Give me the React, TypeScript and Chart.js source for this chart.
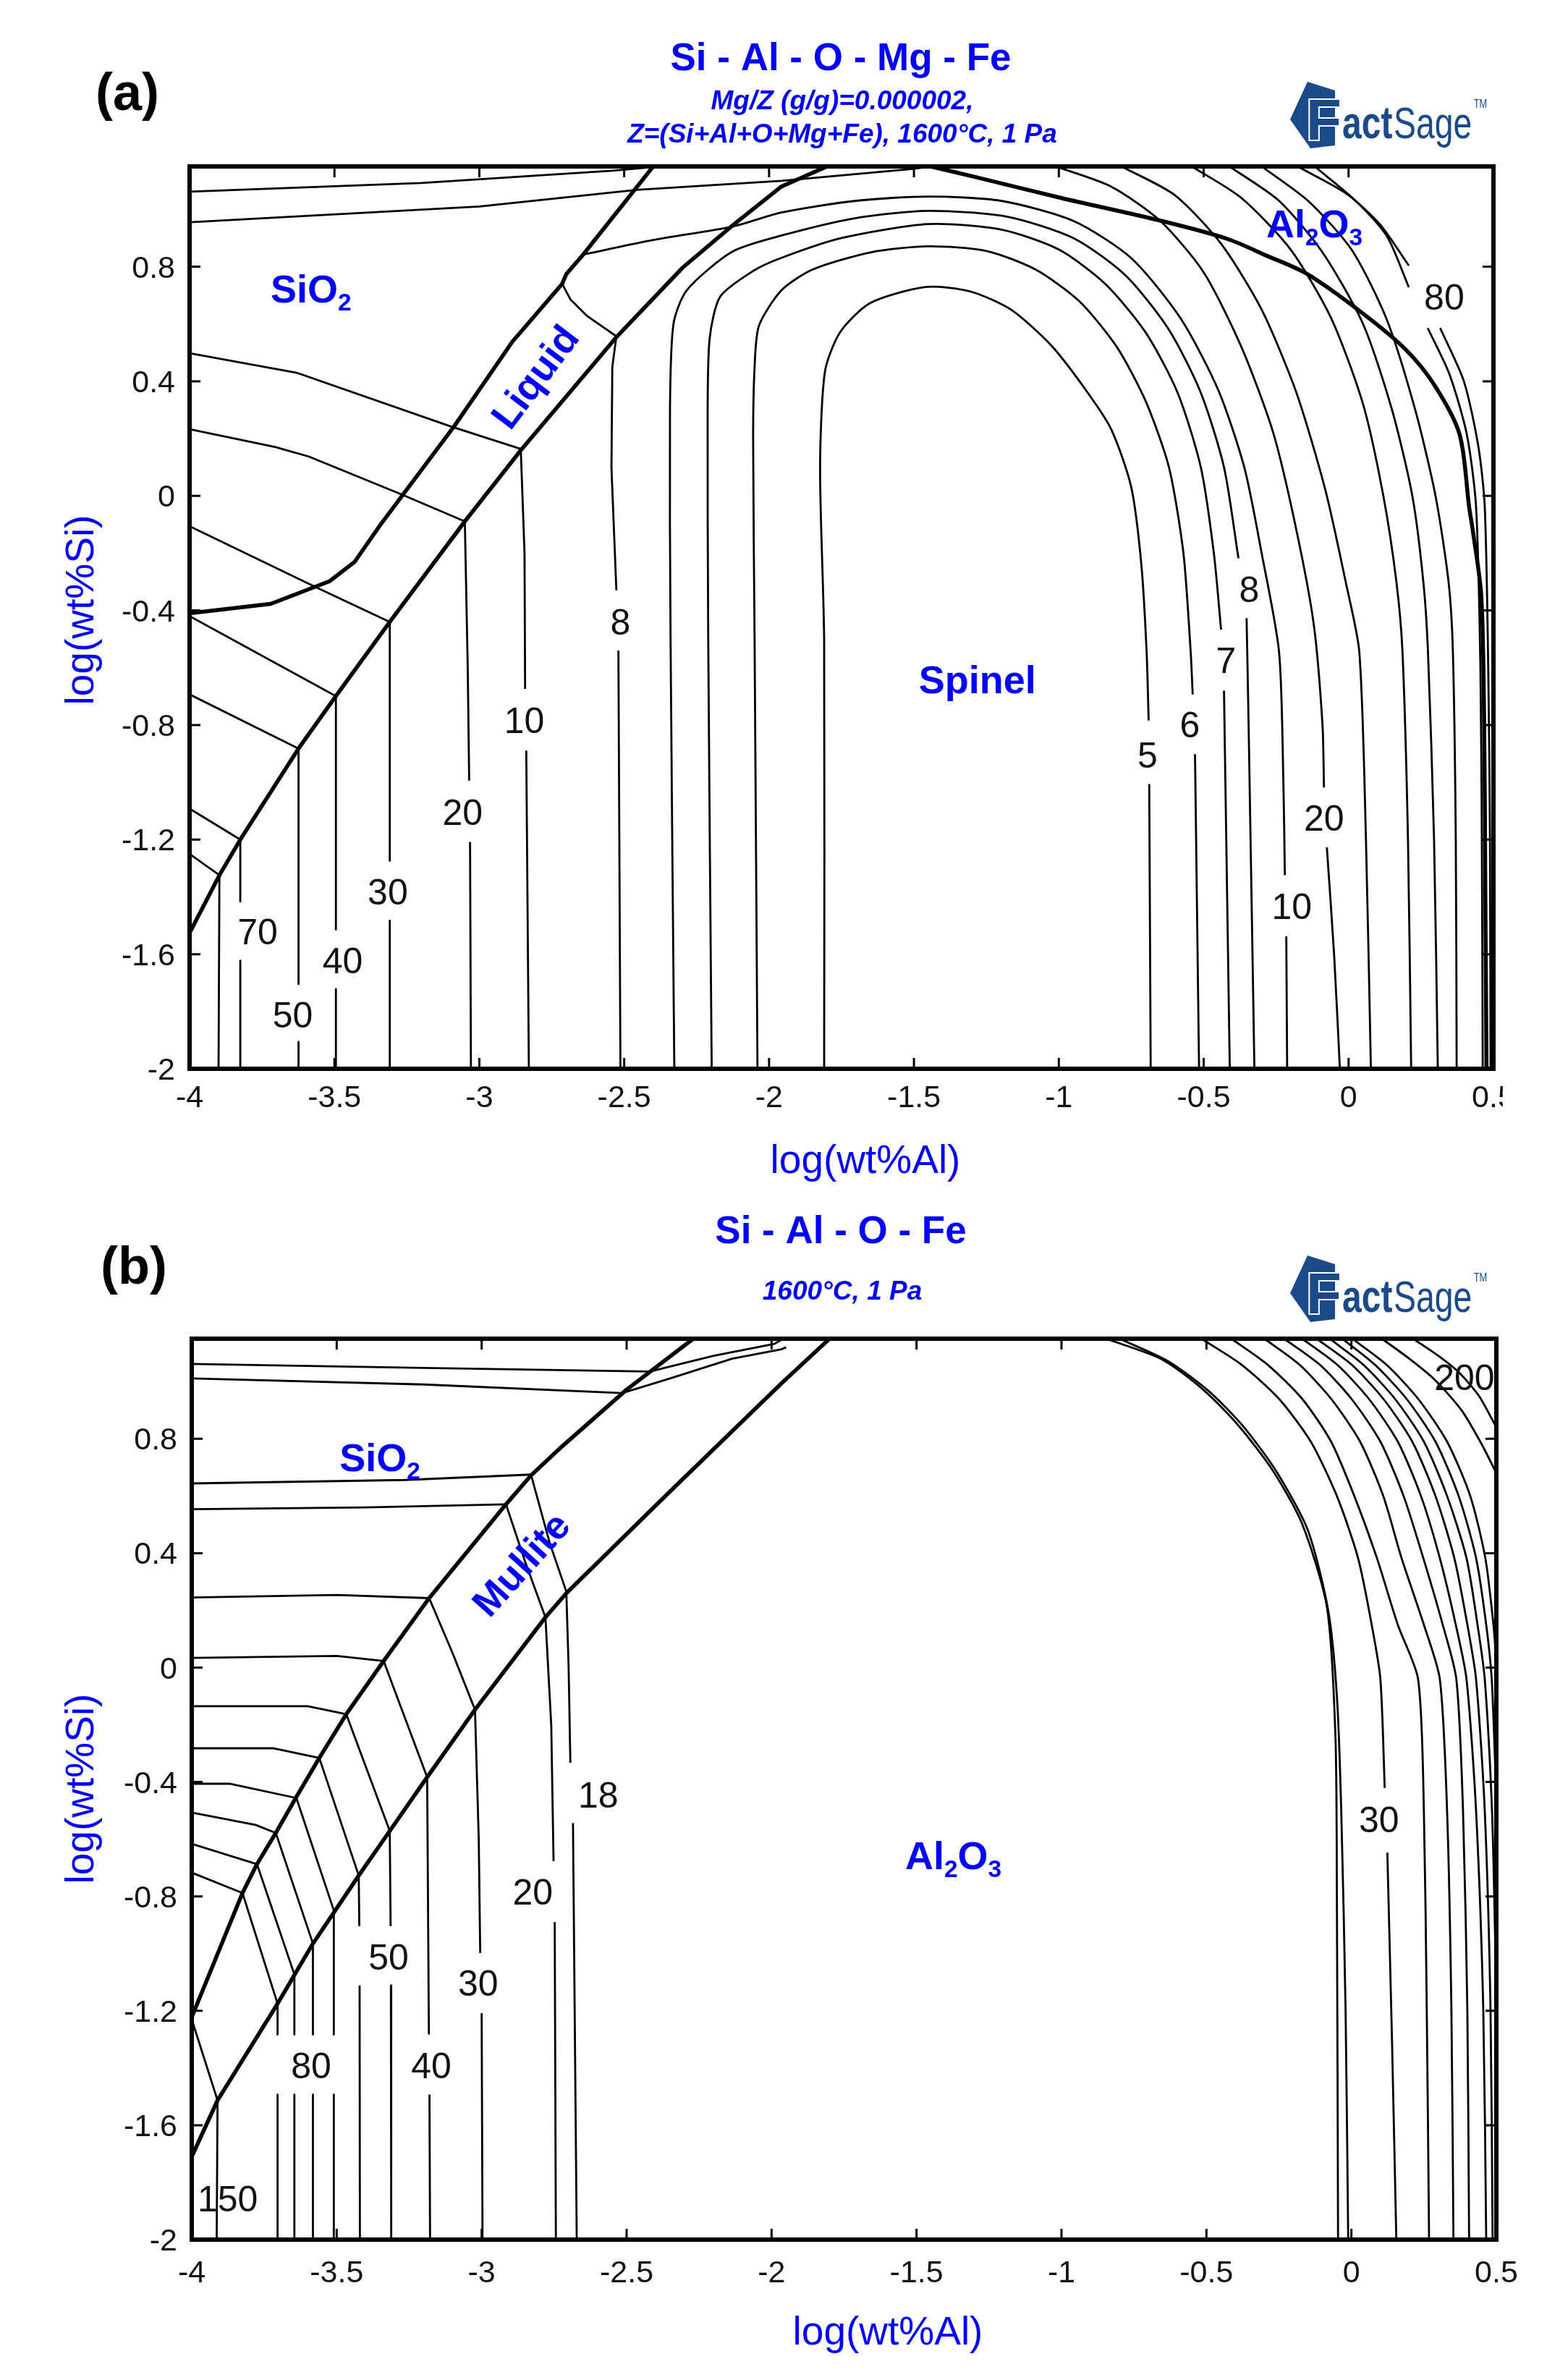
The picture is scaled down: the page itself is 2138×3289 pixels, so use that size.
import React, { useEffect, useRef } from 'react';
import { Chart, registerables } from 'chart.js';

Chart.register(...registerables);

type Pt = [number, number] | null;
type Lbl = { t: string; x: number; y: number };
type Phase = { parts: [string, boolean][]; x: number; y: number; rot: number };

const PAGE_W = 2138;
const PAGE_H = 3289;
const SPLIT = 1660;
const FONT = '"Liberation Sans", Arial, Helvetica, sans-serif';
const BLUE = '#0000ff';

// ---------- axes ----------
const X_MIN = -4, X_MAX = 0.5, Y_MIN = -2, Y_MAX = 1.15;
const xTickValues = [-4, -3.5, -3, -2.5, -2, -1.5, -1, -0.5, 0, 0.5];
const xTickLabels = ['-4', '-3.5', '-3', '-2.5', '-2', '-1.5', '-1', '-0.5', '0', '0.5'];
const yTickValues = [-2, -1.6, -1.2, -0.8, -0.4, 0, 0.4, 0.8];
const yTickLabels = ['-2', '-1.6', '-1.2', '-0.8', '-0.4', '0', '0.4', '0.8'];

// ---------- panel (a): phase boundaries (thick) ----------
const aLiquidUpper: Pt[] = [[-4, -0.41], [-3.72, -0.377], [-3.517, -0.298], [-3.43, -0.23], [-3.345, -0.106], [-3.086, 0.244], [-2.886, 0.538], [-2.714, 0.74], [-2.7, 0.774], [-2.642, 0.842], [-2.4, 1.15]];
const aLiquidLower: Pt[] = [[-4, -1.526], [-3.897, -1.324], [-3.825, -1.2], [-3.624, -0.882], [-3.495, -0.699], [-3.309, -0.44], [-3.05, -0.089], [-2.857, 0.159], [-2.527, 0.554], [-2.298, 0.797], [-2.127, 0.943], [-1.957, 1.08], [-1.8, 1.15]];
const aSpinelAl2O3: Pt[] = [[-1.443, 1.15], [-1.288, 1.113], [-0.993, 1.04], [-0.646, 0.96], [-0.421, 0.898], [-0.284, 0.839], [-0.144, 0.775], [0.049, 0.637], [0.198, 0.51], [0.298, 0.384], [0.383, 0.215], [0.416, -0.038], [0.43, -0.13], [0.458, -0.35], [0.468, -0.8], [0.472, -1.4], [0.476, -2]];

// ---------- panel (a): iso-lines (thin) ----------
const aTop1: Pt[] = [[-4, 1.062], [-3.2, 1.092], [-2.54, 1.135], [-2.4, 1.148]];
const aTop2: Pt[] = [[-4, 0.955], [-3.0, 1.01], [-2.457, 1.068], [-1.957, 1.1], [-1.51, 1.141], [-1.44, 1.15]];
const aIso10: Pt[] = [[-4, 0.498], [-3.631, 0.43], [-3.1, 0.243], [-2.857, 0.164], [-2.844, -0.2], [-2.842, -0.674], null, [-2.838, -0.889], [-2.829, -2]];
const aIso20: Pt[] = [[-4, 0.233], [-3.703, 0.17], [-3.588, 0.137], [-3.273, 0.007], [-3.05, -0.089], [-3.04, -0.6], [-3.035, -0.994], null, [-3.032, -1.208], [-3.029, -2]];
const aIso30: Pt[] = [[-4, -0.106], [-3.56, -0.321], [-3.309, -0.44], [-3.309, -1.274], null, [-3.309, -1.483], [-3.309, -2]];
const aIso40: Pt[] = [[-4, -0.42], [-3.495, -0.699], [-3.495, -1.514], null, [-3.495, -1.722], [-3.495, -2]];
const aIso50: Pt[] = [[-4, -0.693], [-3.624, -0.882], [-3.624, -1.704], null, [-3.624, -1.906], [-3.624, -2]];
const aIso70: Pt[] = [[-4, -1.092], [-3.825, -1.2], [-3.825, -1.416], null, [-3.825, -1.623], [-3.825, -2]];
const aIsoOuter: Pt[] = [[-4, -1.25], [-3.897, -1.324], [-3.9, -2]];
const aIso8L: Pt[] = [[-2.714, 0.74], [-2.685, 0.685], [-2.628, 0.628], [-2.527, 0.557], [-2.541, 0.45], [-2.544, 0.098], [-2.527, -0.33], null, [-2.52, -0.54], [-2.513, -2]];
const aLoop5: Pt[] = [[-1.81, -2], [-1.81, -0.5], [-1.824, 0.097], [-1.807, 0.435], [-1.755, 0.571], [-1.651, 0.673], [-1.46, 0.729], [-1.304, 0.713], [-1.165, 0.65], [-1.027, 0.526], [-0.905, 0.367], [-0.819, 0.232], [-0.75, 0.03], [-0.715, -0.242], [-0.697, -0.545], [-0.69, -0.784], null, [-0.688, -1.006], [-0.683, -2]];
const aLoop6: Pt[] = [[-2.04, -2], [-2.05, -0.5], [-2.055, 0.2], [-2.05, 0.45], [-2.035, 0.594], [-1.957, 0.718], [-1.85, 0.79], [-1.65, 0.85], [-1.45, 0.871], [-1.25, 0.855], [-1.08, 0.79], [-0.93, 0.68], [-0.8, 0.52], [-0.7, 0.33], [-0.62, 0.1], [-0.57, -0.2], [-0.545, -0.544], [-0.538, -0.693], null, [-0.53, -0.902], [-0.516, -2]];
const aLoop7: Pt[] = [[-2.198, -2], [-2.21, -0.5], [-2.212, 0.3], [-2.205, 0.55], [-2.169, 0.695], [-2.055, 0.785], [-1.957, 0.831], [-1.75, 0.9], [-1.45, 0.949], [-1.2, 0.93], [-1.0, 0.86], [-0.84, 0.74], [-0.7, 0.57], [-0.59, 0.36], [-0.51, 0.1], [-0.465, -0.2], [-0.44, -0.467], null, [-0.43, -0.68], [-0.41, -2]];
const aLoop8: Pt[] = [[-2.327, -2], [-2.34, -0.5], [-2.342, 0.3], [-2.33, 0.6], [-2.284, 0.718], [-2.126, 0.853], [-1.957, 0.909], [-1.7, 0.97], [-1.45, 0.995], [-1.18, 0.975], [-0.95, 0.9], [-0.77, 0.77], [-0.62, 0.58], [-0.51, 0.36], [-0.43, 0.1], [-0.38, -0.218], null, [-0.352, -0.427], [-0.345, -0.8], [-0.325, -2]];
const aLoop10: Pt[] = [[-2.642, 0.842], [-2.4, 0.893], [-2.127, 0.94], [-1.957, 0.989], [-1.7, 1.03], [-1.45, 1.045], [-1.2, 1.03], [-0.95, 0.96], [-0.75, 0.83], [-0.58, 0.62], [-0.45, 0.37], [-0.36, 0.1], [-0.3, -0.2], [-0.24, -0.544], [-0.225, -1.0], [-0.22, -1.324], null, [-0.215, -1.538], [-0.212, -2]];
const aRight20: Pt[] = [[-1.01, 1.15], [-0.82, 1.08], [-0.65, 0.96], [-0.5, 0.78], [-0.37, 0.52], [-0.26, 0.22], [-0.18, -0.12], [-0.12, -0.45], [-0.09, -0.8], [-0.085, -1.018], null, [-0.075, -1.227], [-0.05, -1.6], [-0.03, -2]];
const aRight30: Pt[] = [[-0.784, 1.15], [-0.6, 1.05], [-0.44, 0.88], [-0.3, 0.65], [-0.18, 0.36], [-0.08, 0.02], [-0.01, -0.3], [0.037, -0.544], [0.06, -1.2], [0.077, -2]];
const aRight40: Pt[] = [[-0.541, 1.15], [-0.37, 1.04], [-0.2, 0.86], [-0.06, 0.62], [0.05, 0.32], [0.12, 0.0], [0.165, -0.3], [0.186, -0.544], [0.205, -1.2], [0.216, -2]];
const aRight50: Pt[] = [[-0.411, 1.15], [-0.24, 1.03], [-0.09, 0.85], [0.05, 0.6], [0.15, 0.3], [0.22, 0.0], [0.258, -0.3], [0.274, -0.544], [0.295, -1.2], [0.308, -2]];
const aRight60: Pt[] = [[-0.3, 1.15], [-0.14, 1.03], [0.01, 0.86], [0.13, 0.62], [0.23, 0.3], [0.3, 0.0], [0.345, -0.3], [0.36, -0.544], [0.37, -1.2], [0.373, -2]];
const aRight80a: Pt[] = [[-0.176, 1.15], [-0.009, 1.056], [0.108, 0.948], [0.208, 0.804], null, [0.273, 0.586], [0.348, 0.425], [0.408, 0.215], [0.44, -0.038], [0.455, -0.6], [0.46, -1.2], [0.463, -2]];
const aRight80b: Pt[] = [[-0.117, 1.15], [0.023, 1.031], [0.133, 0.905], [0.208, 0.728], null, [0.316, 0.586], [0.398, 0.4], [0.448, 0.172], [0.47, -0.038], [0.482, -0.6], [0.488, -1.2], [0.49, -2]];

const aContourLabels: Lbl[] = [
  { t: '8', x: -2.513, y: -0.44 }, { t: '10', x: -2.845, y: -0.783 }, { t: '20', x: -3.058, y: -1.104 },
  { t: '30', x: -3.316, y: -1.382 }, { t: '40', x: -3.472, y: -1.622 }, { t: '50', x: -3.644, y: -1.81 },
  { t: '70', x: -3.765, y: -1.52 }, { t: '5', x: -0.694, y: -0.903 }, { t: '6', x: -0.548, y: -0.798 },
  { t: '7', x: -0.423, y: -0.573 }, { t: '8', x: -0.343, y: -0.326 }, { t: '10', x: -0.196, y: -1.431 },
  { t: '20', x: -0.085, y: -1.123 }, { t: '80', x: 0.33, y: 0.695 },
];
const aPhaseLabels: Phase[] = [
  { parts: [['SiO', false], ['2', true]], x: -3.581, y: 0.724, rot: 0 },
  { parts: [['Liquid', false]], x: -2.81, y: 0.417, rot: -53 },
  { parts: [['Spinel', false]], x: -1.281, y: -0.64, rot: 0 },
  { parts: [['Al', false], ['2', true], ['O', false], ['3', true]], x: -0.118, y: 0.951, rot: 0 },
];

// ---------- panel (b): phase boundaries (thick) ----------
const bMulliteUpper: Pt[] = [[-4, -1.222], [-3.825, -0.788], [-3.775, -0.687], [-3.71, -0.578], [-3.639, -0.452], [-3.56, -0.316], [-3.467, -0.163], [-3.338, 0.023], [-3.181, 0.243], [-2.916, 0.571], [-2.83, 0.672], [-2.722, 0.774], [-2.5, 0.972], [-2.27, 1.15]];
const bMulliteLower: Pt[] = [[-4, -1.71], [-3.911, -1.513], [-3.704, -1.175], [-3.582, -0.965], [-3.424, -0.727], [-3.317, -0.571], [-3.188, -0.383], [-3.023, -0.147], [-2.78, 0.176], [-2.708, 0.26], [-2.35, 0.616], [-1.966, 0.994], [-1.8, 1.15]];

// ---------- panel (b): iso-lines (thin) ----------
const bTop1: Pt[] = [[-4, 1.062], [-3.2, 1.048], [-2.42, 1.035], [-2.2, 1.09], [-1.99, 1.132], [-1.96, 1.15]];
const bTop2: Pt[] = [[-4, 1.011], [-3.2, 0.99], [-2.515, 0.96], [-2.35, 1.011], [-2.136, 1.08], [-1.966, 1.113], [-1.95, 1.12]];
const bIso18: Pt[] = [[-4, 0.644], [-3.266, 0.656], [-2.83, 0.675], [-2.765, 0.435], [-2.708, 0.266], [-2.7, 0.0], [-2.694, -0.333], null, [-2.685, -0.544], [-2.672, -2]];
const bIso20: Pt[] = [[-4, 0.554], [-3.4, 0.56], [-2.916, 0.571], [-2.85, 0.37], [-2.78, 0.176], [-2.76, -0.2], [-2.752, -0.677], null, [-2.748, -0.89], [-2.744, -2]];
const bIso30: Pt[] = [[-4, 0.245], [-3.5, 0.254], [-3.181, 0.243], [-3.1, 0.05], [-3.023, -0.147], [-3.01, -0.6], [-3.005, -0.998], null, [-3.0, -1.208], [-2.997, -2]];
const bIso40: Pt[] = [[-4, 0.034], [-3.5, 0.041], [-3.338, 0.023], [-3.188, -0.383], [-3.182, -1.283], null, [-3.18, -1.493], [-3.178, -2]];
const bIso50: Pt[] = [[-4, -0.135], [-3.6, -0.135], [-3.467, -0.163], [-3.317, -0.571], [-3.314, -0.904], null, [-3.313, -1.111], [-3.312, -2]];
const bIso60: Pt[] = [[-4, -0.282], [-3.72, -0.282], [-3.56, -0.316], [-3.424, -0.727], [-3.422, -0.904], null, [-3.421, -1.111], [-3.42, -2]];
const bIso70: Pt[] = [[-4, -0.406], [-3.87, -0.406], [-3.639, -0.456], [-3.51, -0.849], [-3.51, -1.283], null, [-3.51, -1.493], [-3.51, -2]];
const bIso80a: Pt[] = [[-4, -0.507], [-3.78, -0.55], [-3.71, -0.578], [-3.582, -0.965], [-3.582, -1.283], null, [-3.582, -1.493], [-3.582, -2]];
const bIso80b: Pt[] = [[-4, -0.616], [-3.775, -0.687], [-3.646, -1.073], [-3.646, -1.283], null, [-3.646, -1.493], [-3.646, -2]];
const bIso80c: Pt[] = [[-4, -0.717], [-3.825, -0.788], [-3.704, -1.175], [-3.704, -1.283], null, [-3.704, -1.493], [-3.704, -2]];
const bIso150: Pt[] = [[-4, -1.23], [-3.911, -1.513], [-3.914, -2]];
const bRight1: Pt[] = [[-0.846, 1.15], [-0.656, 1.079], [-0.517, 0.977], [-0.396, 0.854], [-0.275, 0.695], [-0.17, 0.503], [-0.084, 0.209], [-0.055, -0.242], [-0.05, -0.8], [-0.046, -2]];
const bRight2: Pt[] = [[-0.8, 1.15], [-0.63, 1.07], [-0.49, 0.965], [-0.37, 0.84], [-0.255, 0.68], [-0.15, 0.48], [-0.08, 0.2], [-0.05, -0.1], [-0.035, -0.5], [-0.02, -1.2], [-0.011, -2]];
const bRight30: Pt[] = [[-0.517, 1.15], [-0.38, 1.06], [-0.25, 0.94], [-0.14, 0.79], [-0.05, 0.6], [0.023, 0.383], [0.07, 0.15], [0.1, -0.04], [0.115, -0.421], null, [0.124, -0.647], [0.14, -1.3], [0.155, -2]];
const bRight4: Pt[] = [[-0.414, 1.15], [-0.29, 1.06], [-0.17, 0.94], [-0.07, 0.79], [0.01, 0.6], [0.088, 0.383], [0.16, 0.15], [0.23, -0.04], [0.25, -0.5], [0.26, -1.2], [0.268, -2]];
const bRight5: Pt[] = [[-0.3, 1.15], [-0.18, 1.06], [-0.07, 0.94], [0.03, 0.79], [0.11, 0.6], [0.173, 0.383], [0.25, 0.15], [0.305, -0.04], [0.33, -0.5], [0.345, -1.2], [0.352, -2]];
const bRight6: Pt[] = [[-0.232, 1.15], [-0.11, 1.06], [0.0, 0.94], [0.1, 0.79], [0.18, 0.6], [0.248, 0.383], [0.315, 0.15], [0.362, -0.04], [0.385, -0.5], [0.4, -1.2], [0.406, -2]];
const bRight7: Pt[] = [[-0.17, 1.15], [-0.05, 1.06], [0.06, 0.94], [0.16, 0.79], [0.24, 0.6], [0.305, 0.383], [0.36, 0.15], [0.397, -0.04], [0.43, -0.5], [0.455, -1.2], [0.465, -2]];
const bRight8: Pt[] = [[-0.12, 1.15], [0.0, 1.06], [0.11, 0.94], [0.21, 0.79], [0.29, 0.6], [0.355, 0.383], [0.4, 0.15], [0.43, -0.04], [0.46, -0.5], [0.48, -1.2], [0.487, -2]];
const bRight9: Pt[] = [[-0.075, 1.15], [0.04, 1.06], [0.15, 0.94], [0.25, 0.79], [0.33, 0.6], [0.397, 0.383], [0.435, 0.15], [0.46, -0.04], [0.485, -0.5], [0.497, -1.0]];
const bRight10: Pt[] = [[-0.032, 1.15], [0.08, 1.06], [0.19, 0.94], [0.29, 0.79], [0.37, 0.6], [0.43, 0.383], [0.465, 0.15], [0.484, -0.04], [0.498, -0.4]];
const bRight11: Pt[] = [[0.003, 1.15], [0.12, 1.06], [0.23, 0.94], [0.33, 0.79], [0.41, 0.6], [0.462, 0.383], [0.49, 0.15], [0.5, 0.02]];
const bRight200a: Pt[] = [[0.105, 1.15], [0.2, 1.08], [0.288, 1.006], [0.38, 0.9], [0.45, 0.78], [0.5, 0.68]];
const bRight200b: Pt[] = [[0.213, 1.15], [0.3, 1.09], [0.372, 1.031], [0.44, 0.95], [0.5, 0.84]];

const bContourLabels: Lbl[] = [
  { t: '18', x: -2.598, y: -0.444 }, { t: '20', x: -2.824, y: -0.784 }, { t: '30', x: -3.012, y: -1.103 },
  { t: '50', x: -3.321, y: -1.012 }, { t: '40', x: -3.174, y: -1.39 }, { t: '80', x: -3.588, y: -1.39 },
  { t: '150', x: -3.876, y: -1.857 }, { t: '30', x: 0.095, y: -0.529 }, { t: '200', x: 0.39, y: 1.016 },
];
const bPhaseLabels: Phase[] = [
  { parts: [['SiO', false], ['2', true]], x: -3.351, y: 0.735, rot: 0 },
  { parts: [['Mullite', false]], x: -2.866, y: 0.363, rot: -48 },
  { parts: [['Al', false], ['2', true], ['O', false], ['3', true]], x: -1.373, y: -0.656, rot: 0 },
];

// ---------- helpers ----------
function toData(arr: Pt[]) {
  const out: { x: number; y: number | null }[] = [];
  let lastX = 0;
  for (const p of arr) {
    if (p === null) out.push({ x: lastX, y: null });
    else { out.push({ x: p[0], y: p[1] }); lastX = p[0]; }
  }
  return out;
}

function drawRich(ctx: CanvasRenderingContext2D, parts: [string, boolean][], cx: number, cy: number, size: number, rot: number, color: string, bold: boolean, italic = false) {
  ctx.save();
  ctx.translate(cx, cy);
  if (rot) ctx.rotate((rot * Math.PI) / 180);
  const f = (s: number) => `${italic ? 'italic ' : ''}${bold ? 'bold ' : ''}${s}px ${FONT}`;
  let total = 0;
  const widths = parts.map(([t, sub]) => {
    ctx.font = f(sub ? size * 0.62 : size);
    const w = ctx.measureText(t).width;
    total += w;
    return w;
  });
  let x = -total / 2;
  ctx.fillStyle = color;
  ctx.textAlign = 'left';
  ctx.textBaseline = 'alphabetic';
  const base = size * 0.358;
  parts.forEach(([t, sub], i) => {
    ctx.font = f(sub ? size * 0.62 : size);
    ctx.fillText(t, x, base + (sub ? size * 0.2 : 0));
    x += widths[i];
  });
  ctx.restore();
}

function drawLogo(ctx: CanvasRenderingContext2D, x0: number, y0: number) {
  const dark = '#1b4a8a';
  ctx.save();
  ctx.fillStyle = dark;
  ctx.beginPath();
  ctx.moveTo(x0 + 24, y0 + 0);
  ctx.lineTo(x0 + 62, y0 + 12);
  ctx.lineTo(x0 + 62, y0 + 88);
  ctx.lineTo(x0 + 28, y0 + 92);
  ctx.lineTo(x0 + 0, y0 + 52);
  ctx.closePath();
  ctx.fill();
  ctx.textBaseline = 'alphabetic';
  ctx.textAlign = 'left';
  ctx.font = `bold 80px ${FONT}`;
  ctx.lineWidth = 4;
  ctx.strokeStyle = '#ffffff';
  ctx.strokeText('F', x0 + 22, y0 + 80);
  ctx.fillText('F', x0 + 22, y0 + 80);
  ctx.save();
  ctx.translate(x0 + 72, y0 + 78);
  ctx.scale(0.8, 1.05);
  ctx.font = `bold 60px ${FONT}`;
  ctx.fillText('act', 0, 0);
  const wAct = ctx.measureText('act').width;
  ctx.font = `58px ${FONT}`;
  ctx.fillText('Sage', wAct + 2, 0);
  const wSage = ctx.measureText('Sage').width;
  ctx.font = `16px ${FONT}`;
  ctx.fillText('TM', wAct + wSage + 5, -40);
  ctx.restore();
  ctx.restore();
}

type PanelCfg = {
  id: string;
  canvasH: number;
  left: number; right: number; top: number; bottom: number;
  thick: Pt[][];
  thickSmooth: Pt[][];
  thin: Pt[][];
  smooth: Pt[][];
  contourLabels: Lbl[];
  phaseLabels: Phase[];
  tag: string; tagX: number; tagY: number;
  title: string; titleY: number;
  subtitles: { t: string; y: number }[];
  logoY: number;
  xTitleX: number; xTitleY: number;
  yTitleX: number; yTitleY: number;
  xLabelY: number;
  clipLastX: boolean;
};

const panelA: PanelCfg = {
  id: 'a', canvasH: SPLIT,
  left: 262, right: 2064, top: 230, bottom: 1477,
  thick: [aLiquidUpper, aLiquidLower],
  thickSmooth: [aSpinelAl2O3],
  thin: [aTop1, aTop2, aIso10, aIso20, aIso30, aIso40, aIso50, aIso70, aIsoOuter, aIso8L],
  smooth: [aLoop5, aLoop6, aLoop7, aLoop8, aLoop10, aRight20, aRight30, aRight40, aRight50, aRight60, aRight80a, aRight80b],
  contourLabels: aContourLabels, phaseLabels: aPhaseLabels,
  tag: '(a)', tagX: 176, tagY: 126,
  title: 'Si - Al - O - Mg - Fe', titleY: 97,
  subtitles: [{ t: 'Mg/Z (g/g)=0.000002,', y: 151 }, { t: 'Z=(Si+Al+O+Mg+Fe), 1600°C, 1 Pa', y: 197 }],
  logoY: 113,
  xTitleX: 1196, xTitleY: 1601, yTitleX: 109, yTitleY: 843, xLabelY: 1515, clipLastX: true,
};

const panelB: PanelCfg = {
  id: 'b', canvasH: PAGE_H - SPLIT,
  left: 265, right: 2068, top: 190, bottom: 1435,
  thick: [bMulliteUpper, bMulliteLower],
  thickSmooth: [],
  thin: [bTop1, bTop2, bIso18, bIso20, bIso30, bIso40, bIso50, bIso60, bIso70, bIso80a, bIso80b, bIso80c, bIso150],
  smooth: [bRight1, bRight2, bRight30, bRight4, bRight5, bRight6, bRight7, bRight8, bRight9, bRight10, bRight11, bRight200a, bRight200b],
  contourLabels: bContourLabels, phaseLabels: bPhaseLabels,
  tag: '(b)', tagX: 185, tagY: 88,
  title: 'Si - Al - O - Fe', titleY: 58,
  subtitles: [{ t: '1600°C, 1 Pa', y: 136 }],
  logoY: 75,
  xTitleX: 1227, xTitleY: 1560, yTitleX: 109, yTitleY: 812, xLabelY: 1479, clipLastX: false,
};

function makePlugin(cfg: PanelCfg) {
  return {
    id: 'decor_' + cfg.id,
    afterDraw(chart: any) {
      const ctx: CanvasRenderingContext2D = chart.ctx;
      const xs = chart.scales.x;
      const ys = chart.scales.y;
      const ca = chart.chartArea;
      const px = (v: number) => xs.getPixelForValue(v);
      const py = (v: number) => ys.getPixelForValue(v);
      ctx.save();
      // frame
      ctx.strokeStyle = '#000';
      ctx.lineWidth = 6;
      ctx.strokeRect(ca.left, ca.top, ca.right - ca.left, ca.bottom - ca.top);
      // inner tick marks
      ctx.lineWidth = 3;
      ctx.beginPath();
      for (const v of xTickValues) {
        const x = px(v);
        ctx.moveTo(x, ca.bottom); ctx.lineTo(x, ca.bottom - 15);
        ctx.moveTo(x, ca.top); ctx.lineTo(x, ca.top + 15);
      }
      for (const v of yTickValues) {
        const y = py(v);
        ctx.moveTo(ca.left, y); ctx.lineTo(ca.left + 15, y);
        ctx.moveTo(ca.right, y); ctx.lineTo(ca.right - 15, y);
      }
      ctx.stroke();
      // tick labels
      ctx.fillStyle = '#111';
      ctx.font = `43px ${FONT}`;
      ctx.textBaseline = 'alphabetic';
      ctx.textAlign = 'right';
      yTickValues.forEach((v, i) => ctx.fillText(yTickLabels[i], ca.left - 20, py(v) + 15));
      ctx.textAlign = 'center';
      xTickValues.forEach((v, i) => ctx.fillText(xTickLabels[i], px(v), cfg.xLabelY + 15));
      if (cfg.clipLastX) {
        ctx.fillStyle = '#fff';
        ctx.fillRect(2077, cfg.xLabelY - 30, 61, 60);
      }
      // contour labels
      for (const l of cfg.contourLabels) drawRich(ctx, [[l.t, false]], px(l.x), py(l.y), 50, 0, '#111', false);
      // phase labels
      for (const p of cfg.phaseLabels) drawRich(ctx, p.parts, px(p.x), py(p.y), 54, p.rot, BLUE, true);
      // axis titles
      drawRich(ctx, [['log(wt%Al)', false]], cfg.xTitleX, cfg.xTitleY, 55, 0, BLUE, false);
      drawRich(ctx, [['log(wt%Si)', false]], cfg.yTitleX, cfg.yTitleY, 55, -90, BLUE, false);
      // panel tag
      drawRich(ctx, [[cfg.tag, false]], cfg.tagX, cfg.tagY, 72, 0, '#000', true);
      // titles
      ctx.fillStyle = BLUE;
      ctx.textAlign = 'center';
      ctx.textBaseline = 'alphabetic';
      ctx.font = `bold 53px ${FONT}`;
      ctx.fillText(cfg.title, 1162, cfg.titleY);
      ctx.font = `italic bold 37px ${FONT}`;
      for (const s of cfg.subtitles) ctx.fillText(s.t, 1164, s.y);
      drawLogo(ctx, 1783, cfg.logoY);
      ctx.restore();
    },
  };
}

function buildConfig(cfg: PanelCfg): any {
  const mk = (arr: Pt[], w: number, tension: number) => ({
    data: toData(arr),
    showLine: true,
    spanGaps: false,
    borderColor: '#000',
    borderWidth: w,
    pointRadius: 0,
    pointHoverRadius: 0,
    borderJoinStyle: 'round',
    borderCapStyle: 'butt',
    tension,
    fill: false,
  });
  return {
    type: 'scatter',
    data: {
      datasets: [
        ...cfg.thin.map((a) => mk(a, 2.8, 0)),
        ...cfg.smooth.map((a) => mk(a, 2.8, 0.25)),
        ...cfg.thick.map((a) => mk(a, 5.5, 0)),
        ...cfg.thickSmooth.map((a) => mk(a, 5.5, 0.3)),
      ],
    },
    options: {
      animation: false,
      responsive: false,
      maintainAspectRatio: false,
      devicePixelRatio: 1,
      events: [],
      layout: { padding: { left: 0, right: PAGE_W - cfg.right, top: cfg.top, bottom: 0 } },
      plugins: { legend: { display: false }, tooltip: { enabled: false }, title: { display: false } },
      scales: {
        x: {
          type: 'linear', min: X_MIN, max: X_MAX,
          grid: { display: false }, border: { display: false }, ticks: { display: false },
          afterFit: (s: any) => { s.height = cfg.canvasH - cfg.bottom; },
        },
        y: {
          type: 'linear', min: Y_MIN, max: Y_MAX,
          grid: { display: false }, border: { display: false }, ticks: { display: false },
          afterFit: (s: any) => { s.width = cfg.left; },
        },
      },
    },
    plugins: [makePlugin(cfg)],
  };
}

function Panel({ cfg }: { cfg: PanelCfg }) {
  const ref = useRef<HTMLCanvasElement>(null);
  useEffect(() => {
    const chart = new Chart(ref.current as HTMLCanvasElement, buildConfig(cfg));
    return () => chart.destroy();
  }, [cfg]);
  return (
    <canvas
      ref={ref}
      width={PAGE_W}
      height={cfg.canvasH}
      style={{ display: 'block', width: PAGE_W, height: cfg.canvasH }}
    />
  );
}

export default function App() {
  return (
    <div style={{ position: 'absolute', left: 0, top: 0, width: PAGE_W, height: PAGE_H, background: '#fff', overflow: 'hidden' }}>
      <Panel cfg={panelA} />
      <Panel cfg={panelB} />
    </div>
  );
}
